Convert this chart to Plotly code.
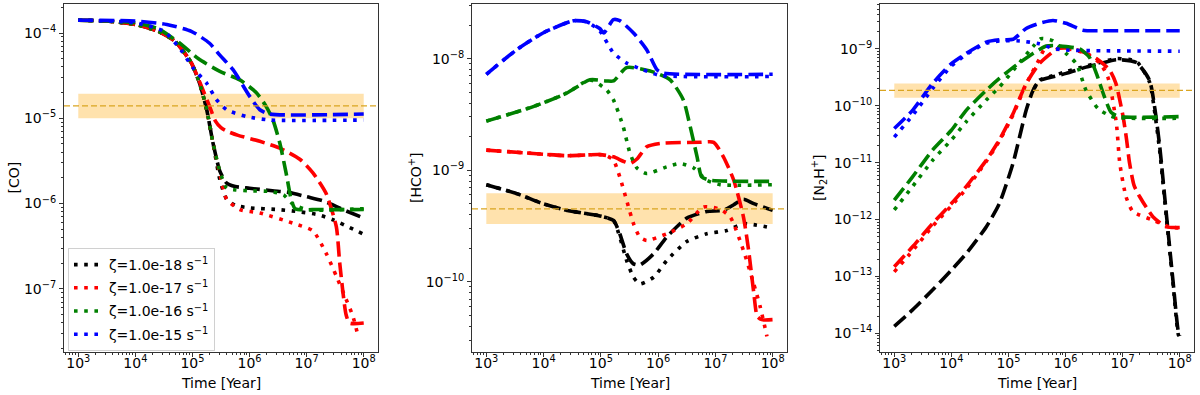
import numpy as np
import plotly.graph_objects as go
from plotly.subplots import make_subplots

FONT = "DejaVu Sans"
AXIS_COLOR = "#333333"
ZETA_COLORS = ["#000000", "#ff0000", "#008000", "#0000ff"]
ZETA_LABELS = ["ζ=1.0e-18 s<sup>−1</sup>", "ζ=1.0e-17 s<sup>−1</sup>",
               "ζ=1.0e-16 s<sup>−1</sup>", "ζ=1.0e-15 s<sup>−1</sup>"]

# all series: log10(time / yr) and log10(abundance)

# ---------------- [CO]
co_k_dash_t = [3.0, 3.5, 4.0, 4.4, 4.7, 4.98, 5.13, 5.25, 5.36, 5.48, 5.6, 5.75, 6.0, 6.4, 6.7, 7.0, 7.3, 7.6, 8.0]
co_k_dash_y = [-3.85, -3.86, -3.90, -3.98, -4.10, -4.35, -4.60, -4.90, -5.29, -5.62, -5.76, -5.80, -5.82, -5.85, -5.87, -5.92, -5.97, -6.06, -6.17]
co_k_dot_t = [3.0, 3.5, 4.0, 4.4, 4.7, 4.98, 5.13, 5.25, 5.36, 5.48, 5.6, 5.75, 6.0, 6.5, 6.8, 7.2, 7.46, 8.0]
co_k_dot_y = [-3.85, -3.86, -3.90, -3.98, -4.10, -4.35, -4.60, -4.90, -5.29, -5.72, -5.95, -6.02, -6.05, -6.07, -6.09, -6.13, -6.19, -6.36]
co_r_dash_t = [3.0, 3.5, 4.0, 4.4, 4.7, 4.98, 5.13, 5.3, 5.4, 5.5, 5.6, 5.8, 6.18, 6.53, 6.88, 7.11, 7.34, 7.52, 7.58, 7.69, 7.75, 8.0]
co_r_dash_y = [-3.85, -3.86, -3.90, -3.98, -4.10, -4.35, -4.58, -4.86, -5.03, -5.11, -5.15, -5.20, -5.27, -5.35, -5.48, -5.64, -5.88, -6.27, -6.70, -7.30, -7.40, -7.40]
co_r_dot_t = [3.0, 3.5, 4.0, 4.4, 4.7, 4.98, 5.13, 5.25, 5.36, 5.48, 5.6, 5.83, 6.18, 6.76, 7.11, 7.34, 7.52, 7.69, 7.81, 7.90]
co_r_dot_y = [-3.85, -3.86, -3.90, -3.98, -4.10, -4.35, -4.60, -4.90, -5.29, -5.65, -5.95, -6.07, -6.11, -6.23, -6.32, -6.58, -6.85, -7.12, -7.32, -7.55]
co_g_dash_t = [3.0, 3.5, 4.0, 4.4, 4.78, 5.1, 5.48, 5.83, 6.12, 6.29, 6.41, 6.53, 6.64, 6.73, 6.8, 7.2, 8.0]
co_g_dash_y = [-3.85, -3.86, -3.88, -3.95, -4.12, -4.30, -4.45, -4.55, -4.70, -4.86, -5.02, -5.29, -5.64, -5.95, -6.06, -6.07, -6.07]
co_g_dot_t = [3.0, 3.5, 4.0, 4.4, 4.7, 4.98, 5.13, 5.25, 5.36, 5.48, 5.6, 5.75, 6.0, 6.4, 6.6, 6.75, 7.0, 8.0]
co_g_dot_y = [-3.85, -3.86, -3.90, -3.98, -4.10, -4.35, -4.60, -4.90, -5.29, -5.62, -5.82, -5.84, -5.85, -5.86, -5.90, -6.00, -6.07, -6.06]
co_b_dash_t = [3.0, 4.0, 4.55, 4.98, 5.3, 5.48, 5.71, 6.0, 6.18, 6.35, 8.0]
co_b_dash_y = [-3.85, -3.86, -3.90, -3.98, -4.12, -4.26, -4.43, -4.74, -4.90, -4.95, -4.95]
co_b_dot_t = [3.0, 4.0, 4.5, 4.8, 5.01, 5.25, 5.42, 5.6, 5.95, 6.35, 8.0]
co_b_dot_y = [-3.85, -3.88, -3.98, -4.20, -4.41, -4.59, -4.78, -4.90, -4.98, -5.02, -5.02]
co_band = [1.0e-5, 1.94e-5]
co_obs = 1.4e-5

# ---------------- [HCO+]
hco_k_dash_t = [3.0, 3.53, 3.99, 4.4, 4.98, 5.22, 5.33, 5.45, 5.57, 5.68, 5.92, 6.15, 6.5, 6.85, 7.14, 7.32, 7.49, 7.67, 8.0]
hco_k_dash_y = [-9.13, -9.21, -9.30, -9.36, -9.41, -9.45, -9.57, -9.75, -9.84, -9.85, -9.75, -9.60, -9.43, -9.37, -9.36, -9.31, -9.26, -9.30, -9.36]
hco_k_dot_t = [3.0, 3.53, 3.99, 4.4, 4.98, 5.22, 5.33, 5.45, 5.57, 5.68, 5.92, 6.15, 6.5, 6.85, 7.2, 7.49, 8.0]
hco_k_dot_y = [-9.13, -9.21, -9.30, -9.36, -9.41, -9.45, -9.60, -9.81, -9.96, -10.02, -9.96, -9.81, -9.64, -9.57, -9.54, -9.48, -9.52]
hco_r_dash_t = [3.0, 3.82, 4.4, 4.98, 5.22, 5.39, 5.51, 5.63, 5.8, 6.03, 6.73, 6.97, 7.14, 7.32, 7.49, 7.58, 7.67, 7.73, 7.81, 8.0]
hco_r_dash_y = [-8.82, -8.85, -8.87, -8.86, -8.88, -8.92, -8.94, -8.90, -8.79, -8.76, -8.75, -8.75, -8.88, -9.09, -9.42, -9.72, -10.10, -10.31, -10.34, -10.34]
hco_r_dot_t = [3.0, 3.82, 4.4, 4.98, 5.1, 5.22, 5.33, 5.45, 5.57, 5.68, 5.8, 6.15, 6.5, 6.79, 7.08, 7.26, 7.49, 7.67, 7.78, 7.90]
hco_r_dot_y = [-8.82, -8.85, -8.87, -8.86, -8.87, -8.91, -9.06, -9.27, -9.48, -9.60, -9.63, -9.57, -9.48, -9.33, -9.35, -9.42, -9.72, -10.02, -10.22, -10.49]
hco_g_dash_t = [3.0, 3.82, 4.4, 4.81, 5.1, 5.22, 5.45, 5.86, 6.21, 6.44, 6.56, 6.68, 6.76, 6.91, 8.0]
hco_g_dash_y = [-8.56, -8.43, -8.31, -8.19, -8.20, -8.20, -8.08, -8.11, -8.19, -8.37, -8.61, -8.88, -9.06, -9.09, -9.10]
hco_g_dot_t = [3.0, 3.82, 4.4, 4.81, 5.1, 5.22, 5.39, 5.51, 5.63, 5.8, 6.15, 6.38, 6.62, 6.85, 7.08, 8.0]
hco_g_dot_y = [-8.56, -8.43, -8.31, -8.19, -8.28, -8.37, -8.61, -8.85, -8.98, -9.03, -8.97, -8.94, -8.98, -9.09, -9.13, -9.13]
hco_b_dash_t = [3.0, 3.53, 3.99, 4.52, 4.75, 4.98, 5.05, 5.22, 5.33, 5.57, 5.8, 5.98, 6.09, 8.0]
hco_b_dash_y = [-8.14, -7.92, -7.77, -7.66, -7.67, -7.73, -7.77, -7.65, -7.66, -7.77, -7.92, -8.10, -8.13, -8.14]
hco_b_dot_t = [3.0, 3.53, 3.99, 4.52, 4.75, 4.98, 5.22, 5.45, 5.74, 6.03, 8.0]
hco_b_dot_y = [-8.14, -7.92, -7.77, -7.66, -7.67, -7.75, -7.95, -8.04, -8.10, -8.15, -8.16]
hco_band = [3.3e-10, 6.2e-10]
hco_obs = 4.5e-10

# ---------------- [N2H+]
n2h_k_dash_t = [3.0, 3.32, 3.67, 4.0, 4.26, 4.61, 4.84, 5.08, 5.31, 5.43, 5.54, 5.78, 6.01, 6.36, 6.6, 6.89, 7.24, 7.47, 7.56, 7.65, 7.77, 7.88, 7.97, 8.0]
n2h_k_dash_y = [-13.88, -13.59, -13.24, -12.89, -12.60, -12.13, -11.72, -11.01, -10.08, -9.73, -9.56, -9.49, -9.43, -9.32, -9.26, -9.19, -9.24, -9.55, -10.02, -10.72, -11.95, -13.06, -13.94, -14.05]
n2h_k_dot_t = [5.45, 5.54, 5.78, 6.01, 6.36, 6.6, 6.89, 7.24, 7.47, 7.56, 7.65, 7.77, 7.88, 7.97, 8.0]
n2h_k_dot_y = [-9.70, -9.55, -9.47, -9.40, -9.30, -9.24, -9.17, -9.22, -9.58, -10.10, -10.80, -12.00, -13.10, -14.00, -14.10]
n2h_r_dash_t = [3.0, 3.32, 3.67, 4.0, 4.26, 4.61, 4.84, 5.08, 5.31, 5.54, 5.78, 5.89, 6.1, 6.3, 6.54, 6.77, 6.88, 6.95, 7.01, 7.07, 7.12, 7.2, 7.3, 7.53, 7.77, 8.0]
n2h_r_dash_y = [-12.83, -12.48, -12.07, -11.72, -11.42, -10.96, -10.60, -10.14, -9.61, -9.26, -9.05, -8.99, -8.99, -9.05, -9.17, -9.37, -9.60, -9.90, -10.20, -10.60, -11.00, -11.40, -11.60, -11.95, -12.13, -12.14]
n2h_r_dot_t = [3.0, 3.32, 3.67, 4.0, 4.26, 4.61, 4.84, 5.08, 5.31, 5.54, 5.66, 5.9, 6.36, 6.6, 6.74, 6.89, 6.95, 7.06, 7.18, 7.53, 7.82, 8.0]
n2h_r_dot_y = [-12.92, -12.55, -12.12, -11.76, -11.46, -10.98, -10.62, -10.16, -9.62, -9.18, -8.96, -8.97, -9.08, -9.25, -9.49, -10.31, -11.01, -11.60, -11.86, -12.01, -12.13, -12.15]
n2h_g_dash_t = [3.0, 3.32, 3.67, 4.0, 4.26, 4.61, 4.84, 5.13, 5.43, 5.66, 5.8, 6.01, 6.25, 6.42, 6.54, 6.68, 6.8, 6.95, 8.0]
n2h_g_dash_y = [-11.66, -11.25, -10.78, -10.43, -10.08, -9.73, -9.52, -9.29, -9.08, -8.95, -8.94, -8.96, -9.00, -9.15, -9.43, -9.84, -10.12, -10.19, -10.19]
n2h_g_dot_t = [3.0, 3.32, 3.67, 4.0, 4.26, 4.61, 4.84, 5.13, 5.43, 5.57, 5.78, 6.01, 6.19, 6.36, 6.57, 6.77, 6.9, 8.0]
n2h_g_dot_y = [-11.83, -11.42, -10.96, -10.60, -10.28, -9.90, -9.67, -9.32, -8.96, -8.82, -8.86, -9.08, -9.26, -9.73, -10.05, -10.17, -10.21, -10.22]
n2h_b_dash_t = [3.0, 3.32, 3.67, 4.0, 4.26, 4.61, 4.84, 5.08, 5.31, 5.54, 5.78, 6.01, 6.3, 6.6, 8.0]
n2h_b_dash_y = [-10.40, -10.08, -9.61, -9.26, -9.08, -8.88, -8.84, -8.83, -8.64, -8.55, -8.50, -8.55, -8.67, -8.68, -8.68]
n2h_b_dot_t = [3.0, 3.32, 3.67, 4.0, 4.26, 4.61, 4.84, 5.2, 5.54, 5.78, 6.01, 8.0]
n2h_b_dot_y = [-10.55, -10.17, -9.70, -9.30, -9.10, -8.90, -8.86, -8.86, -8.91, -8.99, -9.02, -9.04]
n2h_band = [1.38e-10, 2.47e-10]
n2h_obs = 1.86e-10

x_tick_exps = [3, 4, 5, 6, 7, 8]

panels = [
    {
        "title": "[CO]", "yrange": [-7.74, -3.66], "ytick_exps": [-4, -5, -6, -7],
        "band": co_band, "obs": co_obs, "title_x": 13.5,
        "series": [(co_k_dot_t, co_k_dot_y, co_k_dash_t, co_k_dash_y),
                   (co_r_dot_t, co_r_dot_y, co_r_dash_t, co_r_dash_y),
                   (co_g_dot_t, co_g_dot_y, co_g_dash_t, co_g_dash_y),
                   (co_b_dot_t, co_b_dot_y, co_b_dash_t, co_b_dash_y)],
    },
    {
        "title": "[HCO<sup>+</sup>]", "yrange": [-10.63, -7.51], "ytick_exps": [-8, -9, -10],
        "band": hco_band, "obs": hco_obs, "title_x": 415,
        "series": [(hco_k_dot_t, hco_k_dot_y, hco_k_dash_t, hco_k_dash_y),
                   (hco_r_dot_t, hco_r_dot_y, hco_r_dash_t, hco_r_dash_y),
                   (hco_g_dot_t, hco_g_dot_y, hco_g_dash_t, hco_g_dash_y),
                   (hco_b_dot_t, hco_b_dot_y, hco_b_dash_t, hco_b_dash_y)],
    },
    {
        "title": "[N<sub>2</sub>H<sup>+</sup>]", "yrange": [-14.33, -8.21],
        "ytick_exps": [-9, -10, -11, -12, -13, -14],
        "band": n2h_band, "obs": n2h_obs, "title_x": 819,
        "series": [(n2h_k_dot_t, n2h_k_dot_y, n2h_k_dash_t, n2h_k_dash_y),
                   (n2h_r_dot_t, n2h_r_dot_y, n2h_r_dash_t, n2h_r_dash_y),
                   (n2h_g_dot_t, n2h_g_dot_y, n2h_g_dash_t, n2h_g_dash_y),
                   (n2h_b_dot_t, n2h_b_dot_y, n2h_b_dash_t, n2h_b_dash_y)],
    },
]

X_DOMAINS = [(64, 378), (472, 787), (880, 1194)]
W, H = 1200, 395
TOP, BOTTOM = 4, 352


def pow10(vals):
    return 10 ** np.array(vals, dtype=float)


def exp_label(e):
    return "10<sup>" + str(e).replace("-", "−") + "</sup>"


def minor_vals(lo, hi):
    out = []
    for n in range(int(np.floor(lo)), int(np.ceil(hi)) + 1):
        for k in range(2, 10):
            v = k * 10.0 ** n
            if lo <= np.log10(v) <= hi:
                out.append(v)
    return out


fig = make_subplots(rows=1, cols=3)

for i, p in enumerate(panels):
    col = i + 1
    lo, hi = p["band"]
    fig.add_trace(go.Scatter(x=[1e3, 1e8, 1e8, 1e3, 1e3], y=[lo, lo, hi, hi, lo],
                             mode="lines", fill="toself", fillcolor="rgba(255,165,0,0.32)",
                             line=dict(width=0), hoverinfo="skip", showlegend=False),
                  row=1, col=col)
    fig.add_hline(y=p["obs"], line=dict(color="#DAA520", width=1.3, dash="6px,3px"),
                  row=1, col=col)

    for j, (dt, dy, st, sy) in enumerate(p["series"]):
        c = ZETA_COLORS[j]
        fig.add_trace(go.Scatter(x=pow10(dt), y=pow10(dy), mode="lines",
                                 line=dict(color=c, width=3.6, dash="3.6px,6.6px",
                                           shape="spline", smoothing=0.6),
                                 name=ZETA_LABELS[j], legendgroup="z%d" % j,
                                 showlegend=(i == 0)),
                      row=1, col=col)
        fig.add_trace(go.Scatter(x=pow10(st), y=pow10(sy), mode="lines",
                                 line=dict(color=c, width=3.6, dash="15px,6px",
                                           shape="spline", smoothing=0.6),
                                 legendgroup="z%d" % j, showlegend=False),
                      row=1, col=col)

    axis_common = dict(type="log", showgrid=False, zeroline=False, showline=True,
                       mirror=True, linecolor=AXIS_COLOR, linewidth=1, automargin=False,
                       ticks="outside", ticklen=4, tickwidth=1, tickcolor=AXIS_COLOR,
                       tickfont=dict(family=FONT, size=14, color="black"))
    fig.update_xaxes(range=[2.75, 8.25],
                     tickmode="array", tickvals=[10.0 ** e for e in x_tick_exps],
                     ticktext=[exp_label(e) for e in x_tick_exps],
                     ticklabelstandoff=-6,
                     minor=dict(ticks="outside", ticklen=2, tickwidth=0.8, tickcolor=AXIS_COLOR,
                                tickmode="array", tickvals=minor_vals(2.75, 8.25)),
                     domain=[X_DOMAINS[i][0] / W, X_DOMAINS[i][1] / W],
                     row=1, col=col, **axis_common)
    y0, y1 = p["yrange"]
    fig.update_yaxes(range=[y0, y1],
                     tickmode="array", tickvals=[10.0 ** e for e in p["ytick_exps"]],
                     ticktext=[exp_label(e) for e in p["ytick_exps"]],
                     minor=dict(ticks="outside", ticklen=2, tickwidth=0.8, tickcolor=AXIS_COLOR,
                                tickmode="array", tickvals=minor_vals(y0, y1)),
                     domain=[0, 1], row=1, col=col, **axis_common)

    # axis titles
    cx = (X_DOMAINS[i][0] + X_DOMAINS[i][1]) / 2
    fig.add_annotation(text="Time [Year]", xref="paper", yref="paper",
                       x=cx / W, y=(BOTTOM - 383) / (BOTTOM - TOP),
                       xanchor="center", yanchor="middle", showarrow=False,
                       font=dict(family=FONT, size=14, color="black"))
    fig.add_annotation(text=p["title"], xref="paper", yref="paper", textangle=-90,
                       x=p["title_x"] / W, y=0.5, xanchor="center", yanchor="middle",
                       showarrow=False, font=dict(family=FONT, size=14, color="black"))

fig.update_layout(
    template="none",
    width=W, height=H,
    margin=dict(l=0, r=0, t=TOP, b=H - BOTTOM, autoexpand=False),
    paper_bgcolor="white", plot_bgcolor="white",
    font=dict(family=FONT, size=14, color="black"),
    legend=dict(x=68 / W, y=(BOTTOM - 248) / (BOTTOM - TOP), xanchor="left", yanchor="top",
                bgcolor="rgba(255,255,255,0.8)", bordercolor="#d0d0d0", borderwidth=1,
                font=dict(family=FONT, size=14, color="black"), itemwidth=30,
                tracegroupgap=2),
)

# the page body has a default 8px margin; drop it so the figure sits at (0, 0)
fig.write_html("out.html", config={"displayModeBar": False},
               post_script="document.body.style.margin = '0';")
